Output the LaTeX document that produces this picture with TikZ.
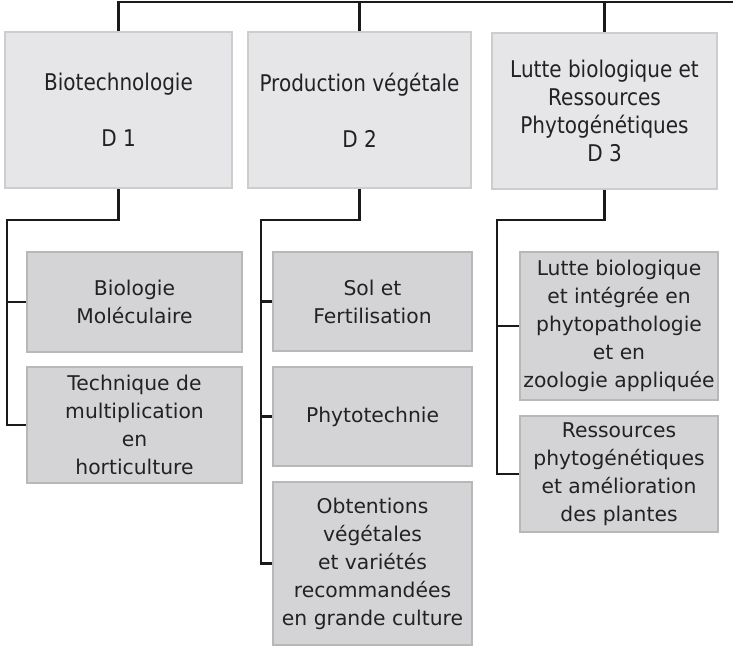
\documentclass[tikz,border=0pt]{standalone}
\usepackage{fontspec}
\setmainfont{DejaVu Sans}
\newfontfamily\topfont[FakeStretch=0.87]{DejaVu Sans}
\definecolor{topfill}{HTML}{E6E6E8}
\definecolor{topline}{HTML}{CDCDCD}
\definecolor{subfill}{HTML}{D4D4D6}
\definecolor{subline}{HTML}{B8B8B8}
\definecolor{conn}{HTML}{1A1A1A}
\definecolor{txt}{HTML}{222222}
\tikzset{
  topbox/.style={draw=topline, fill=topfill, line width=2pt, rectangle, inner sep=0pt,
    align=center, text=txt, font=\topfont\fontsize{23}{28}\selectfont},
  subbox/.style={draw=subline, fill=subfill, line width=2pt, rectangle, inner sep=0pt,
    align=center, text=txt, font=\fontsize{20.3}{28}\selectfont},
  connline/.style={draw=conn, line width=2.3pt},
}
\begin{document}
\begin{tikzpicture}[x=1pt,y=-1pt]
\useasboundingbox (0,0) rectangle (733,648);
% top boxes
\node[topbox, minimum width=227pt, minimum height=156pt] (d1) at (118.5,110) {Biotechnologie\\[28pt]D 1};
\node[topbox, minimum width=223pt, minimum height=156pt] (d2) at (359.5,110) {Production végétale\\[28pt]D 2};
\node[topbox, minimum width=225pt, minimum height=156pt] (d3) at (604.5,111) {Lutte biologique et\\Ressources\\Phytogénétiques\\D 3};
% sub boxes D1
\node[subbox, minimum width=215pt, minimum height=100pt] (s11) at (134.5,302) {Biologie\\Moléculaire};
\node[subbox, minimum width=215pt, minimum height=116pt] (s12) at (134.5,425) {Technique de\\multiplication\\en\\horticulture};
% sub boxes D2
\node[subbox, minimum width=199pt, minimum height=99pt] (s21) at (372.5,301.5) {Sol et\\Fertilisation};
\node[subbox, minimum width=199pt, minimum height=99pt] (s22) at (372.5,416.5) {Phytotechnie};
\node[subbox, minimum width=199pt, minimum height=163pt] (s23) at (372.5,563.5) {Obtentions\\végétales\\et variétés\\recommandées\\en grande culture};
% sub boxes D3
\node[subbox, minimum width=198pt, minimum height=148pt] (s31) at (619,326) {Lutte biologique\\et intégrée en\\phytopathologie\\et en\\zoologie appliquée};
\node[subbox, minimum width=198pt, minimum height=116pt] (s32) at (619,474) {Ressources\\phytogénétiques\\et amélioration\\des plantes};
% connector coordinates
\coordinate (tl) at (118.5,2);
\coordinate (tr) at (735,2);
\coordinate (b1) at (7,220);
\coordinate (b2) at (261,220);
\coordinate (b3) at (497,220);
% top bus
\draw[connline] (d1.north) -- (tl) -- (tr);
\draw[connline] (d2.north) -- (d2.north |- tl);
\draw[connline] (d3.north) -- (d3.north |- tl);
% D1 branch
\draw[connline] (d1.south) |- (b1) |- (s12.west);
\draw[connline] (s11.west) -- (s11.west -| b1);
% D2 branch
\draw[connline] (d2.south) |- (b2) |- (s23.west);
\draw[connline] (s21.west) -- (s21.west -| b2);
\draw[connline] (s22.west) -- (s22.west -| b2);
% D3 branch
\draw[connline] (d3.south) |- (b3) |- (s32.west);
\draw[connline] (s31.west) -- (s31.west -| b3);
\end{tikzpicture}
\end{document}
